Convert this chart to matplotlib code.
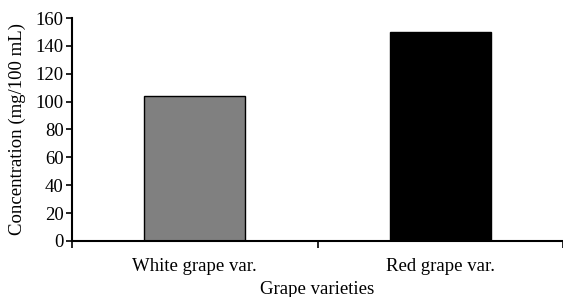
import matplotlib
matplotlib.use("Agg")
import matplotlib.pyplot as plt

categories = ["White grape var.", "Red grape var."]
values = [104, 150]
colors = ["#808080", "#000000"]
yticks = [0, 20, 40, 60, 80, 100, 120, 140, 160]

plt.rcParams['font.family'] = ['Liberation Serif', 'DejaVu Serif']
fs = 13.5

fig = plt.figure(figsize=(5.63, 2.97), dpi=100)
ax = fig.add_axes([0.128, 0.189, 0.872, 0.75])

x = list(range(len(categories)))
ax.bar(x, values, width=0.41, color=colors, edgecolor="black", linewidth=1.0, zorder=2)

ax.set_xlim(-0.5, 1.5)
ax.set_ylim(0, 160)
ax.set_yticks(yticks)
ax.set_yticklabels([str(v) for v in yticks], fontsize=fs)
ax.set_xticks([-0.5, 0.5, 1.5])
ax.set_xticklabels([])
ax.set_xticks(x, minor=True)
ax.set_xticklabels(categories, minor=True, fontsize=fs)
ax.tick_params(axis='x', which='minor', length=0, pad=12)
ax.tick_params(axis='x', which='major', length=5, width=1.2, direction='out')
ax.tick_params(axis='y', length=4, width=1.2, direction='out', pad=2)

for s in ["top", "right"]:
    ax.spines[s].set_visible(False)
for s in ["left", "bottom"]:
    ax.spines[s].set_linewidth(1.5)

ax.set_ylabel("Concentration (mg/100 mL)", fontsize=fs, labelpad=7)
ax.set_xlabel("Grape varieties", fontsize=fs, labelpad=5)

fig.savefig("out.png", dpi=100)
